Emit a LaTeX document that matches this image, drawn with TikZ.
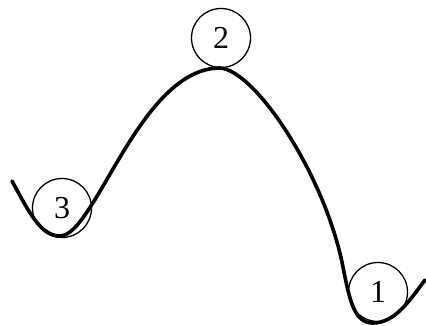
\documentclass[tikz,border=0pt]{standalone}
\usepackage{fontspec}
\setmainfont{Liberation Serif}
\begin{document}
\begin{tikzpicture}[x=1pt,y=-1pt,
  ball/.style={circle,draw,line width=1.3pt,minimum size=59pt,inner sep=0pt,font=\fontsize{32}{32}\selectfont},
  track/.style={line width=3.6pt,line cap=round,line join=round}]
\useasboundingbox (0,0) rectangle (426,326);
\draw[track] (12,181) .. controls (28,210) and (40,236) .. (60,236)
  .. controls (95,236) and (140,68) .. (220,68)
  .. controls (255,70) and (325,175) .. (343,267)
  .. controls (350,303) and (355,323) .. (373,323)
  .. controls (395,323) and (410,300) .. (425,280);
\node[ball] (b3) at (62,208) {3};
\node[ball] (b2) at (221,38) {2};
\node[ball] (b1) at (378,292) {1};
\end{tikzpicture}
\end{document}
